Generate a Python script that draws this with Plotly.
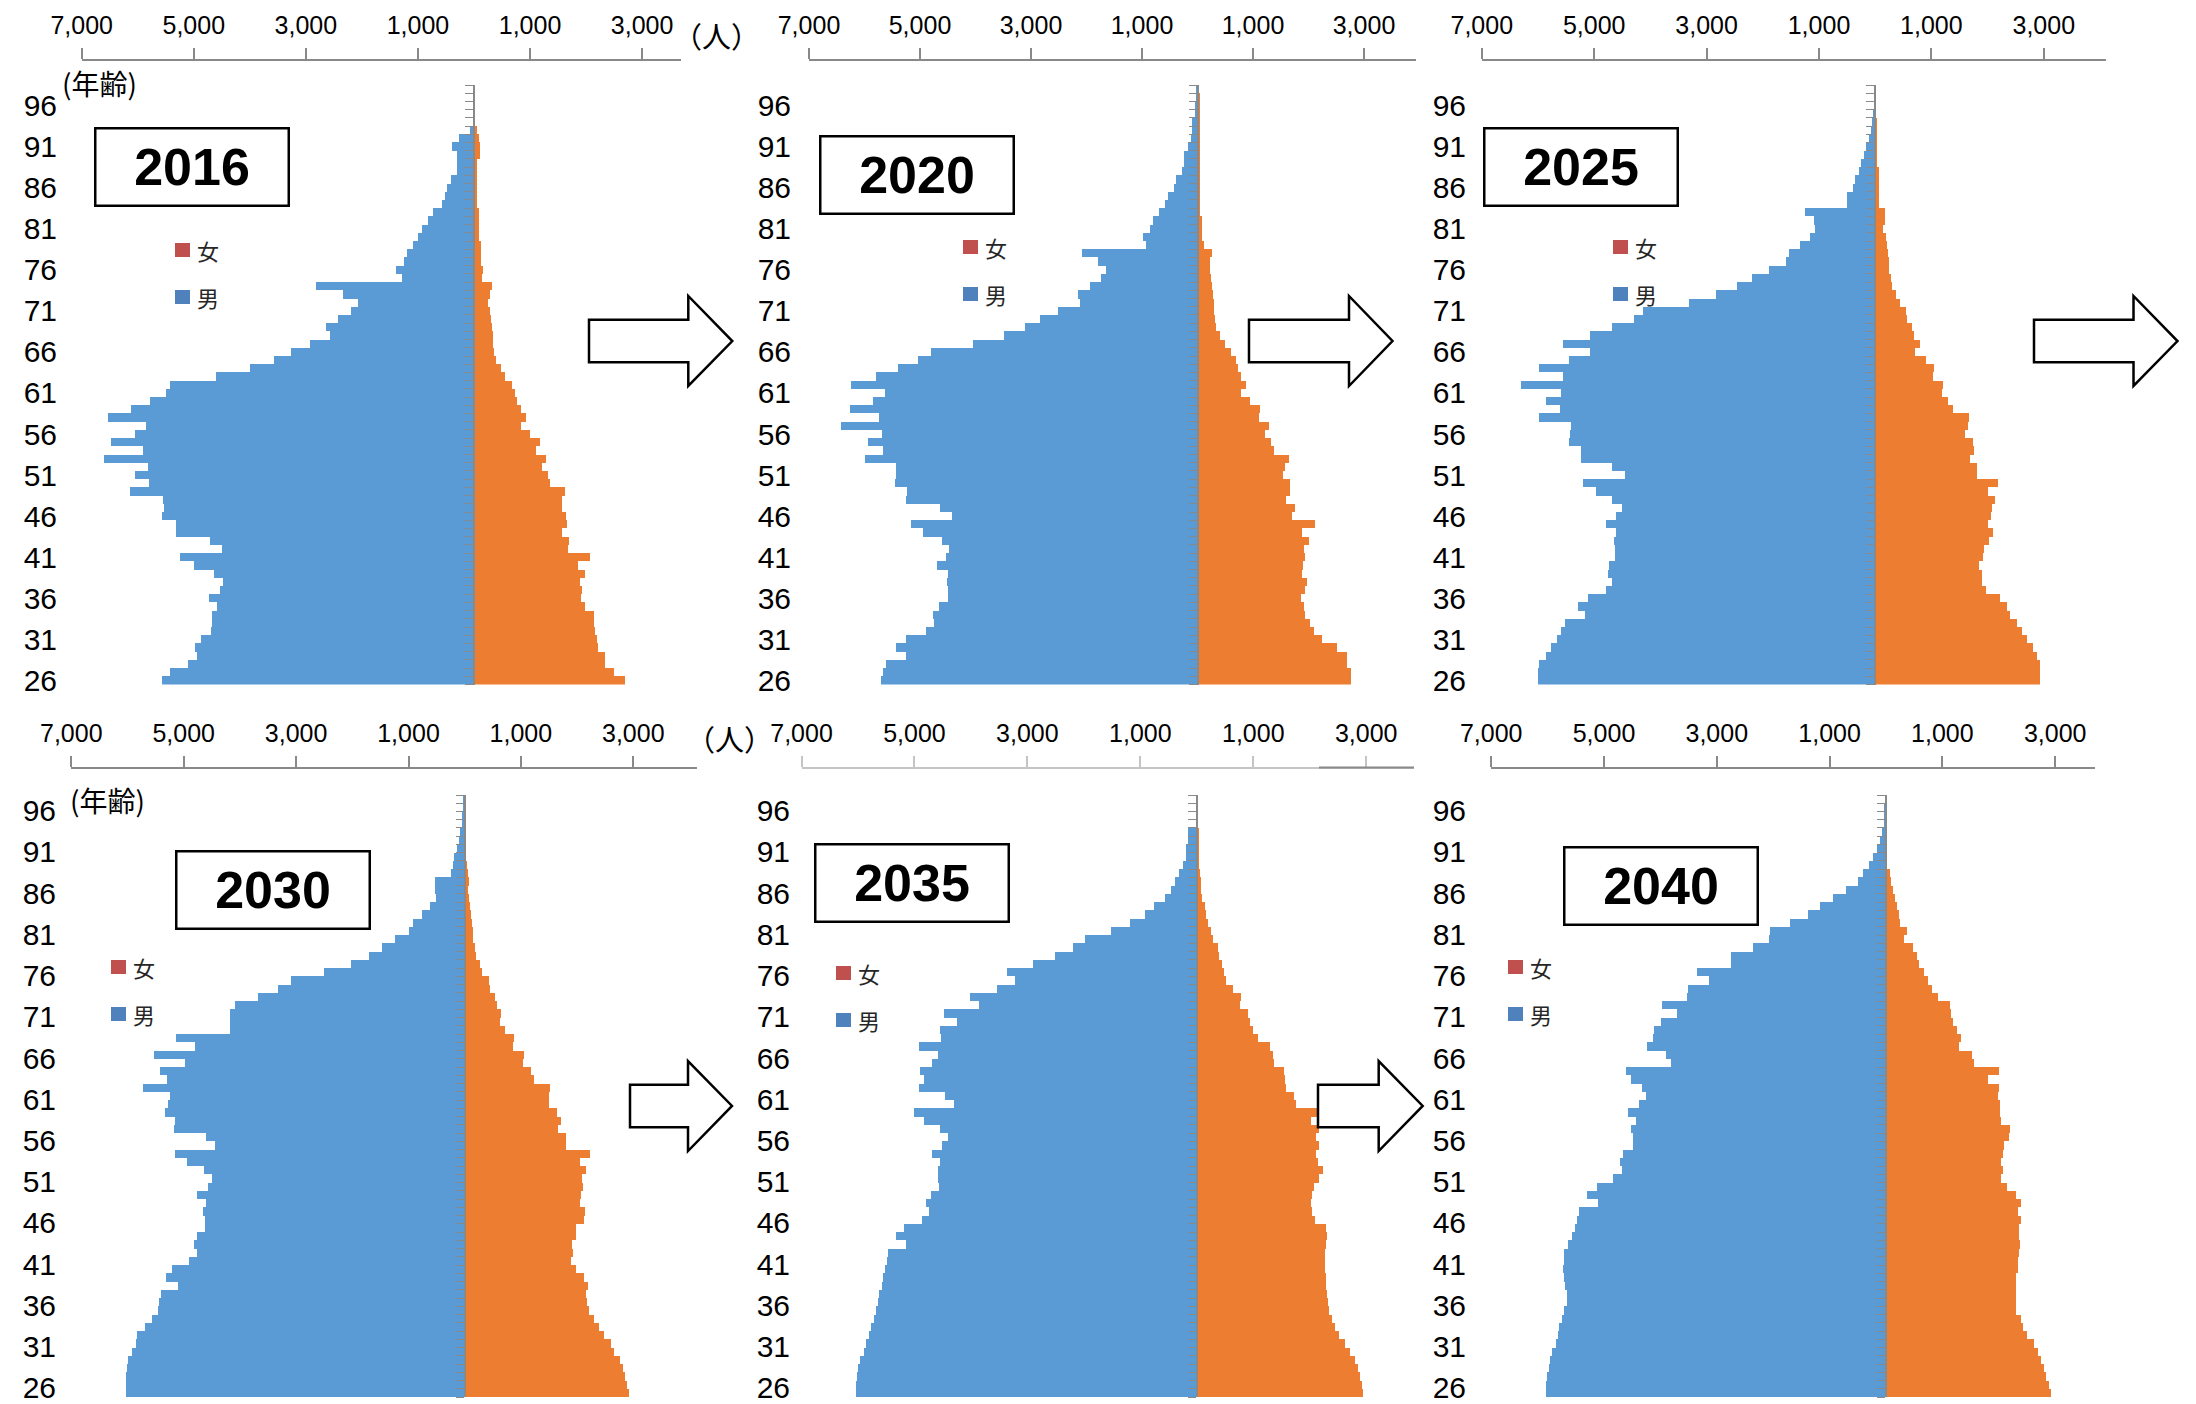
import plotly.graph_objects as go

# target canvas size and the 8px page margin the browser adds around the figure
W_PAGE, H_PAGE = 2196, 1404
OFF = 8
W, H = W_PAGE - OFF, H_PAGE - OFF

# ---------------- data ----------------
ages = list(range(26, 99))  # 26 .. 98
years = ["2016", "2020", "2025", "2030", "2035", "2040"]

male_2016 = [5570, 5430, 5100, 4940, 4990, 4880, 4690, 4680, 4680, 4590, 4730, 4540, 4480, 4640, 5000,
             5250, 4500, 4720, 5330, 5330, 5570, 5540, 5560, 6140, 5800, 6060, 5830, 6610, 5910, 6490,
             6060, 5850, 6540, 6120, 5780, 5510, 5430, 4610, 4000, 3580, 3270, 2940, 2570, 2640, 2430,
             2200, 2080, 2340, 2820, 1290, 1390, 1260, 1200, 1090, 1000, 940, 820, 730, 570, 530,
             490, 420, 310, 310, 310, 390, 270, 80, 20, 10, 10, 0, 0]
female_2016 = [2690, 2490, 2330, 2330, 2210, 2190, 2160, 2140, 2130, 1970, 1910, 1920, 1890, 1970, 1850,
               2060, 1670, 1690, 1570, 1660, 1640, 1570, 1560, 1620, 1350, 1310, 1210, 1280, 1100, 1170,
               1000, 830, 930, 840, 770, 720, 680, 550, 470, 390, 360, 340, 330, 310, 300,
               280, 240, 280, 310, 140, 160, 120, 120, 120, 90, 90, 90, 90, 50, 50,
               50, 50, 50, 50, 110, 110, 80, 40, 0, 0, 0, 0, 0]

male_2020 = [5700, 5670, 5620, 5260, 5440, 5250, 4890, 4740, 4770, 4650, 4500, 4500, 4520, 4490, 4700,
             4540, 4470, 4610, 4940, 5170, 4430, 4640, 5250, 5240, 5450, 5440, 5440, 6000, 5670, 5930,
             5690, 6430, 5740, 6270, 5840, 5630, 6250, 5800, 5400, 5030, 4810, 4050, 3480, 3110, 2830,
             2520, 2120, 2160, 1940, 1740, 1640, 1790, 2090, 930, 980, 860, 800, 700, 590, 530,
             430, 390, 280, 240, 240, 180, 120, 100, 100, 40, 40, 30, 20]
female_2020 = [2770, 2770, 2700, 2690, 2520, 2250, 2090, 2020, 1930, 1910, 1860, 1930, 1980, 1880, 1900,
               1930, 1910, 2010, 1890, 2110, 1710, 1760, 1600, 1670, 1660, 1540, 1580, 1640, 1380, 1320,
               1210, 1280, 1100, 1130, 950, 790, 880, 790, 730, 690, 610, 500, 410, 330, 310,
               300, 300, 280, 260, 250, 230, 220, 260, 110, 80, 80, 80, 50, 50, 50,
               50, 50, 50, 50, 40, 40, 40, 40, 40, 50, 50, 40, 30]

male_2025 = [6010, 6010, 5990, 5870, 5780, 5670, 5600, 5520, 5160, 5300, 5120, 4800, 4690, 4760, 4740,
             4630, 4630, 4650, 4610, 4790, 4610, 4510, 4690, 4980, 5200, 4450, 4690, 5240, 5240, 5450,
             5430, 5410, 5990, 5610, 5860, 5600, 6310, 5550, 5980, 5450, 5080, 5560, 5070, 4680, 4300,
             4140, 3320, 2840, 2460, 2200, 1890, 1590, 1540, 1350, 1160, 1070, 1100, 1250, 500, 500,
             390, 370, 300, 260, 200, 160, 110, 70, 60, 50, 30, 20, 10]
female_2025 = [2930, 2930, 2930, 2880, 2800, 2700, 2600, 2520, 2390, 2340, 2210, 1960, 1890, 1890, 1840,
               1910, 1930, 2020, 2090, 2010, 2050, 2080, 2120, 2010, 2190, 1810, 1800, 1680, 1750, 1730,
               1590, 1640, 1660, 1380, 1290, 1190, 1210, 1020, 1050, 900, 710, 800, 680, 650, 570,
               550, 430, 370, 300, 270, 250, 240, 220, 200, 190, 140, 170, 170, 70, 60,
               60, 60, 60, 30, 30, 30, 20, 20, 20, 10, 10, 10, 10]

male_2030 = [6030, 6020, 6020, 6000, 5980, 5910, 5850, 5820, 5680, 5550, 5460, 5430, 5400, 5090, 5310,
             5200, 4900, 4760, 4820, 4760, 4620, 4620, 4650, 4590, 4760, 4570, 4500, 4630, 4940, 5150,
             4430, 4600, 5170, 5150, 5320, 5280, 5240, 5720, 5290, 5410, 4980, 5530, 4800, 5130, 4170,
             4170, 4170, 4090, 3670, 3320, 3090, 2490, 2020, 1700, 1470, 1230, 980, 920, 750, 620,
             510, 530, 530, 230, 210, 180, 130, 90, 70, 40, 40, 30, 20]
female_2030 = [2920, 2900, 2860, 2830, 2760, 2670, 2610, 2490, 2390, 2310, 2210, 2190, 2170, 2200, 2130,
               1980, 1890, 1940, 1910, 1990, 1990, 2130, 2150, 2060, 2070, 2110, 2090, 2170, 2050, 2230,
               1800, 1800, 1660, 1710, 1640, 1500, 1510, 1520, 1240, 1190, 1040, 1060, 860, 890, 730,
               630, 650, 580, 540, 460, 430, 310, 270, 210, 180, 160, 150, 130, 120, 100,
               80, 70, 90, 60, 40, 30, 20, 20, 20, 10, 10, 10, 10]

male_2035 = [6040, 6040, 6030, 6000, 5970, 5910, 5860, 5820, 5770, 5730, 5690, 5660, 5640, 5590, 5560,
             5530, 5500, 5470, 5150, 5330, 5190, 4880, 4750, 4800, 4720, 4580, 4590, 4600, 4560, 4700,
             4520, 4420, 4560, 4840, 5020, 4300, 4460, 4930, 4840, 4910, 4700, 4600, 4930, 4530, 4560,
             4250, 4480, 3870, 4020, 3550, 3220, 3370, 2910, 2520, 2200, 1990, 1520, 1200, 930, 760,
             580, 470, 390, 330, 250, 200, 200, 160, 160, 30, 20, 20, 10]
female_2035 = [2930, 2920, 2890, 2850, 2800, 2700, 2620, 2510, 2430, 2390, 2330, 2310, 2300, 2280, 2280,
               2270, 2260, 2260, 2280, 2300, 2280, 2080, 2030, 2020, 2040, 2070, 2160, 2220, 2130, 2110,
               2150, 2110, 2160, 2020, 2150, 1740, 1710, 1570, 1560, 1540, 1360, 1340, 1290, 1070, 980,
               930, 900, 750, 780, 630, 510, 480, 440, 390, 360, 270, 240, 190, 160, 130,
               90, 70, 60, 50, 30, 30, 30, 20, 20, 10, 10, 10, 10]

male_2040 = [6030, 6020, 6010, 5980, 5960, 5910, 5850, 5820, 5790, 5740, 5700, 5660, 5660, 5680, 5700,
             5730, 5710, 5700, 5630, 5560, 5510, 5470, 5440, 5100, 5290, 5120, 4840, 4670, 4720, 4660,
             4490, 4490, 4510, 4430, 4570, 4380, 4250, 4330, 4520, 4610, 3800, 3890, 4240, 4130, 4110,
             3990, 3700, 3970, 3530, 3510, 3140, 3340, 2740, 2750, 2350, 2070, 2050, 1700, 1380, 1160,
             940, 710, 500, 410, 300, 230, 150, 110, 70, 30, 20, 20, 10]
female_2040 = [2930, 2890, 2840, 2800, 2750, 2690, 2620, 2500, 2430, 2390, 2310, 2300, 2300, 2300, 2310,
               2340, 2340, 2370, 2380, 2360, 2370, 2390, 2350, 2390, 2300, 2150, 2050, 2080, 2050, 2080,
               2100, 2180, 2200, 2050, 2030, 2030, 1990, 2000, 1820, 2000, 1560, 1520, 1300, 1330, 1270,
               1190, 1160, 1130, 920, 820, 750, 670, 590, 560, 480, 330, 370, 260, 230, 190,
               160, 130, 100, 70, 30, 30, 30, 20, 20, 10, 10, 10, 10]

males = [male_2016, male_2020, male_2025, male_2030, male_2035, male_2040]
females = [female_2016, female_2020, female_2025, female_2030, female_2035, female_2040]

x_tick_vals = [-7000, -5000, -3000, -1000, 1000, 3000]
x_tick_text = ["7,000", "5,000", "3,000", "1,000", "1,000", "3,000"]
age_tick_vals = [26, 31, 36, 41, 46, 51, 56, 61, 66, 71, 76, 81, 86, 91, 96]
legend_labels = ["女", "男"]

# ---------------- styles / geometry (page pixels) ----------------
MALE_COLOR = "#5B9BD5"
FEMALE_COLOR = "#ED7D31"
LEG_F_COLOR = "#C0504D"
LEG_M_COLOR = "#4F81BD"
AXIS_COLOR = "#898989"
NUM_FONT = "Liberation Sans, Arial, sans-serif"
JP_FONT = "Noto Sans CJK JP, Noto Sans CJK SC, sans-serif"
YEAR_FONT = "Liberation Sans, Arial, sans-serif"

panels = [
    dict(zero=474.0, scale=56.04, end=681.3, axis_y=59.5, top=85.0, bottom=684.5, label_right=54,
         axis_color=AXIS_COLOR, box=(191.7, 166.7), leg=(175, 243), lab_shift=0),
    dict(zero=1197.5, scale=55.5, end=1416.0, axis_y=59.5, top=85.0, bottom=684.5, label_right=788,
         axis_color=AXIS_COLOR, box=(917.0, 174.9), leg=(963, 240), lab_shift=0),
    dict(zero=1875.2, scale=56.2, end=2106.2, axis_y=59.5, top=85.0, bottom=684.5, label_right=1463,
         axis_color=AXIS_COLOR, box=(1581.0, 166.7), leg=(1613, 240), lab_shift=0),
    dict(zero=464.7, scale=56.2, end=696.6, axis_y=767.5, top=795.0, bottom=1397.0, label_right=53,
         axis_color=AXIS_COLOR, box=(272.5, 890.4), leg=(111, 960), lab_shift=-5),
    dict(zero=1196.8, scale=56.47, end=1414.0, axis_y=767.5, top=795.0, bottom=1397.0, label_right=787,
         axis_color="#C4C4C4", box=(911.5, 883.3), leg=(836, 966), lab_shift=-5),
    dict(zero=1886.0, scale=56.4, end=2095.0, axis_y=767.5, top=795.0, bottom=1397.0, label_right=1463,
         axis_color=AXIS_COLOR, box=(1661.3, 885.7), leg=(1508, 960), lab_shift=-5),
]


def px(x):
    return (x - OFF) / W


def py(y):
    return 1 - (y - OFF) / H


fig = go.Figure()
layout = {}
annotations = []
shapes = []

for i, p in enumerate(panels):
    n = i + 1
    xname = "x" if n == 1 else f"x{n}"
    xkey = "xaxis" if n == 1 else f"xaxis{n}"
    yl = 2 * n - 1
    yc = 2 * n
    ylname = "y" if yl == 1 else f"y{yl}"
    ylkey = "yaxis" if yl == 1 else f"yaxis{yl}"
    ycname = f"y{yc}"
    yckey = f"yaxis{yc}"

    fig.add_trace(go.Bar(y=ages, x=[-v for v in males[i]], orientation="h",
                         marker=dict(color=MALE_COLOR, line=dict(width=0)),
                         xaxis=xname, yaxis=ylname, showlegend=False, name="男"))
    fig.add_trace(go.Bar(y=ages, x=females[i], orientation="h",
                         marker=dict(color=FEMALE_COLOR, line=dict(width=0)),
                         xaxis=xname, yaxis=ylname, showlegend=False, name="女"))
    # invisible trace to anchor the centre category axis
    fig.add_trace(go.Scatter(x=[0], y=[60], mode="markers", marker=dict(opacity=0),
                             xaxis=xname, yaxis=ycname, hoverinfo="skip", showlegend=False))

    left = p["zero"] - 7 * p["scale"]
    rmax = (p["end"] - p["zero"]) / p["scale"] * 1000
    layout[xkey] = dict(
        domain=[px(left), px(p["end"])], range=[-7000, rmax], side="top",
        anchor="free", position=py(p["axis_y"]), automargin=False,
        showline=True, linecolor=p["axis_color"], linewidth=2,
        ticks="outside", ticklen=11, tickwidth=1.5, tickcolor=p["axis_color"],
        tickvals=x_tick_vals, ticktext=x_tick_text,
        tickfont=dict(size=25, color="black", family=NUM_FONT),
        ticklabelstandoff=4, ticklabeloverflow="allow",
        showgrid=False, zeroline=False, fixedrange=True,
    )
    ydom = [py(p["bottom"]), py(p["top"])]
    layout[ylkey] = dict(
        domain=ydom, range=[25.5, 98.5], anchor="free", position=px(p["label_right"] + 3),
        automargin=False, ticklabeloverflow="allow", ticklabelshift=p["lab_shift"],
        side="left", showline=False, ticks="", tickvals=age_tick_vals,
        tickfont=dict(size=30, color="black", family=NUM_FONT),
        showgrid=False, zeroline=False, fixedrange=True,
    )
    layout[yckey] = dict(
        overlaying=ylname, range=[25.5, 98.5], anchor="free", position=px(p["zero"]),
        automargin=False,
        side="left", showline=True, linecolor=AXIS_COLOR, linewidth=1.5,
        ticks="outside", ticklen=8, tickwidth=1.2, tickcolor=AXIS_COLOR,
        tickvals=[25.5 + k for k in range(74)], showticklabels=False,
        showgrid=False, zeroline=False, fixedrange=True,
    )

    # year box
    bx, by = p["box"]
    annotations.append(dict(
        text=f"<b>{years[i]}</b>", x=px(bx), y=py(by), xref="paper", yref="paper",
        xanchor="center", yanchor="middle", showarrow=False,
        font=dict(size=52, color="black", family=YEAR_FONT),
        bordercolor="black", borderwidth=2.5, borderpad=0, bgcolor="white",
        width=191, height=75, valign="middle",
    ))

    # legend (squares + labels)
    lx, ly = p["leg"]
    for k, (lab, col) in enumerate(zip(legend_labels, [LEG_F_COLOR, LEG_M_COLOR])):
        top = ly + 47 * k
        shapes.append(dict(type="rect", xref="paper", yref="paper",
                           x0=px(lx), x1=px(lx + 15), y0=py(top + 14), y1=py(top),
                           fillcolor=col, line=dict(width=0)))
        annotations.append(dict(
            text=lab, x=px(lx + 20), y=py(top + 7), xref="paper", yref="paper",
            xanchor="left", yanchor="middle", showarrow=False,
            font=dict(size=22, color="#262626", family=JP_FONT),
        ))

# unit labels
for txt, cx, cy, fs in [("(年齢)", 99, 83, 28), ("(年齢)", 107, 800, 28),
                        ("（人）", 716, 35, 29), ("（人）", 729, 738, 29)]:
    annotations.append(dict(
        text=txt, x=px(cx), y=py(cy), xref="paper", yref="paper",
        xanchor="center", yanchor="middle", showarrow=False,
        font=dict(size=fs, color="black", family=JP_FONT),
    ))


# block arrows (decoration)
def arrow_path(left, base, tip, cy, bh=21.3, hh=45.0):
    pts = [(left, cy - bh), (base, cy - bh), (base, cy - hh), (tip, cy),
           (base, cy + hh), (base, cy + bh), (left, cy + bh)]
    s = "M " + " L ".join(f"{px(x):.5f},{py(y):.5f}" for x, y in pts) + " Z"
    return s


for left, base, tip, cy in [(589, 688.3, 732.3, 341), (1249, 1349, 1392.5, 341),
                            (2034, 2133.5, 2177.5, 341), (630, 688, 732, 1106),
                            (1318, 1378.7, 1422.7, 1106)]:
    shapes.append(dict(type="path", path=arrow_path(left, base, tip, cy), xref="paper", yref="paper",
                       fillcolor="white", line=dict(color="black", width=2.5), layer="above"))

# short darker axis segment visible at the end of the 2035 axis
shapes.append(dict(type="line", xref="paper", yref="paper", x0=px(1319), x1=px(1414),
                   y0=py(767.5), y1=py(767.5), line=dict(color=AXIS_COLOR, width=2)))

fig.update_layout(
    width=W, height=H, margin=dict(l=0, r=0, t=0, b=0, autoexpand=False),
    paper_bgcolor="white", plot_bgcolor="rgba(0,0,0,0)",
    barmode="relative", bargap=0, showlegend=False,
    annotations=annotations, shapes=shapes,
    font=dict(family=NUM_FONT, color="black"),
    **layout,
)

fig.write_html("out.html")
